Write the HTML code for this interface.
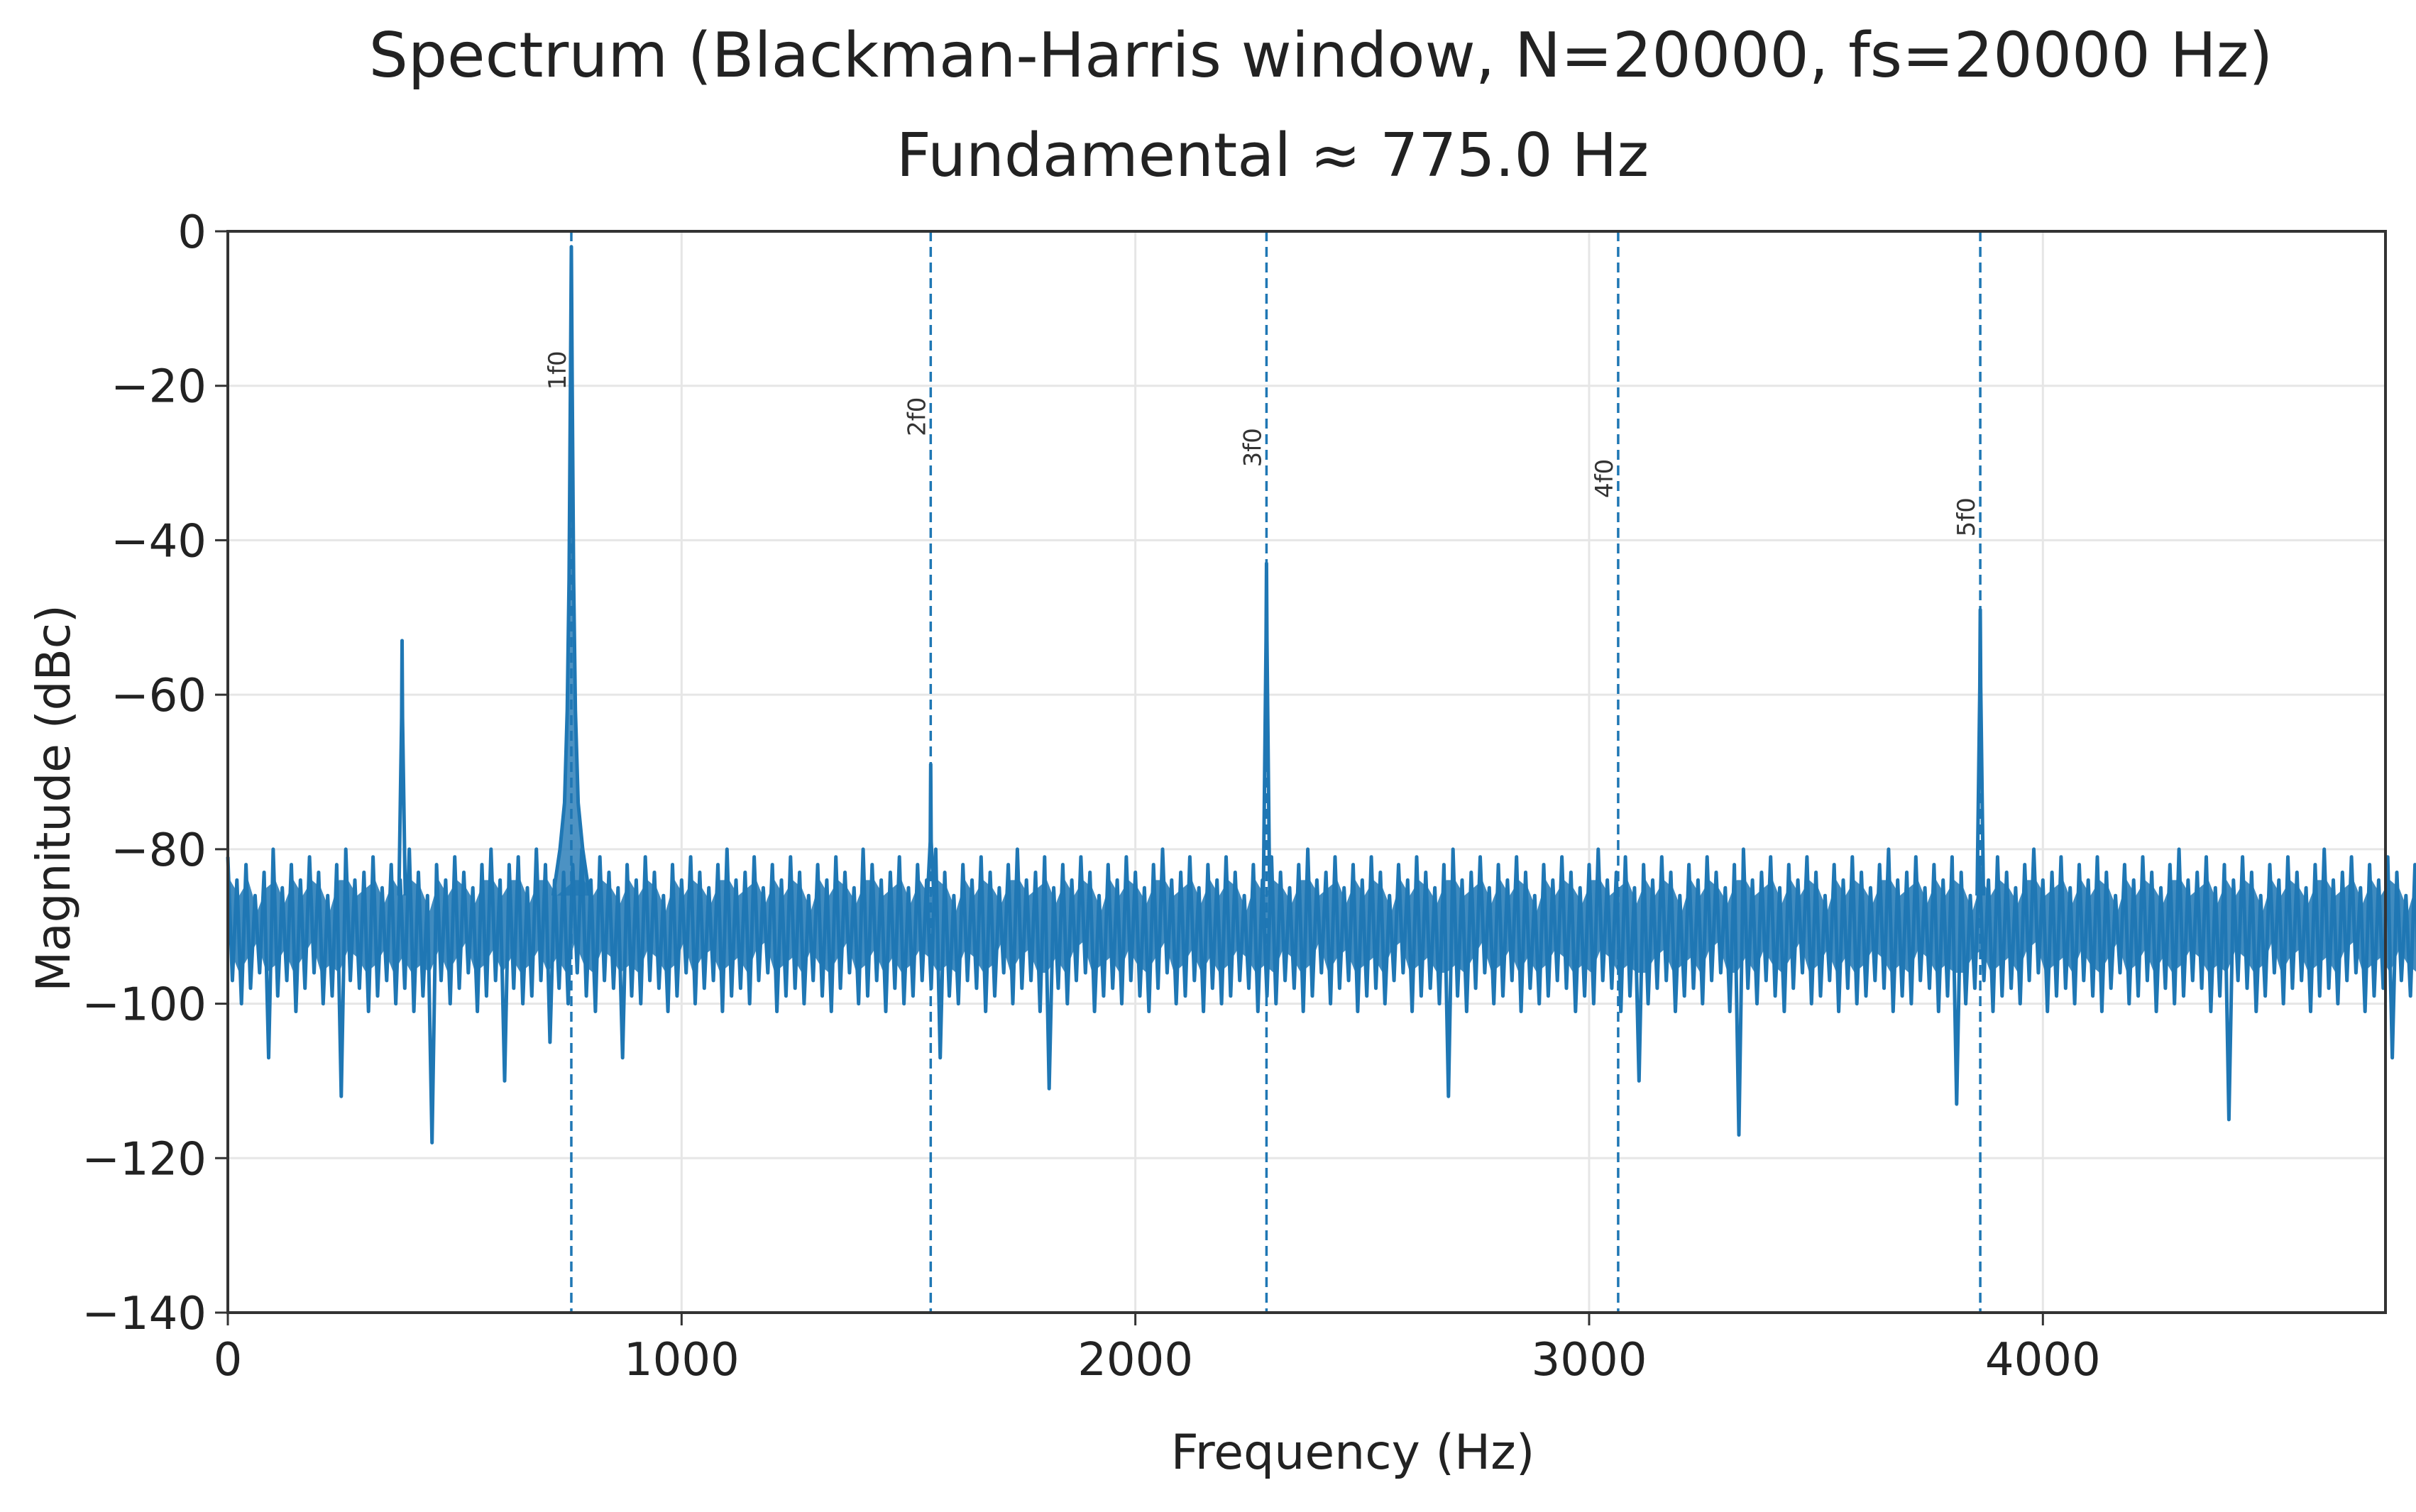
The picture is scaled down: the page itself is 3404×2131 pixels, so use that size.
<!DOCTYPE html>
<html><head><meta charset="utf-8"><style>
html,body{margin:0;padding:0;background:#fff}
svg{display:block;font-family:"DejaVu Sans","Liberation Sans",sans-serif}
</style></head><body>
<svg id="chart" width="3404" height="2131" viewBox="0 0 3404 2131">
<rect x="0" y="0" width="3404" height="2131" fill="#fff"/>
<text x="1861" y="108" font-size="87" text-anchor="middle" fill="#222">Spectrum (Blackman-Harris window, N=20000, fs=20000 Hz)</text>
<text x="1793" y="248" font-size="85" text-anchor="middle" fill="#222">Fundamental ≈ 775.0 Hz</text>
<g id="grid"></g>
<g id="marks"></g>
<g id="axes"></g>
<text x="1906" y="2070" font-size="68" text-anchor="middle" fill="#222">Frequency (Hz)</text>
<text transform="translate(98,1125) rotate(-90)" font-size="66" text-anchor="middle" fill="#222">Magnitude (dBc)</text>
</svg>
<script>
const xTicks=[0,1000,2000,3000,4000];
const yTicks=[0,-20,-40,-60,-80,-100,-120,-140];
const harmonics=[757,1549,2289,3064,3862];
const harmonicLabels=["1f0","2f0","3f0","4f0","5f0"];
const labelDb=[-18,-24,-28,-32,-37];
const noiseStep=20;
const noiseHi=[-81,-84,-82,-86,-83,-80,-85,-82,-84,-81,-83,-86,-82,-80,-84,-83,-81,-85,-82,-84,-80,-83,-86,-82,-84,-81,-83,-85,-82,-80,-84,-82,-81,-85,-80,-82,-84,-83,-82,-80,-84,-81,-83,-85,-82,-84,-81,-83,-86,-82,-84,-81,-83,-85,-82,-80,-84,-83,-81,-85,-82,-84,-81,-83,-86,-82,-84,-81,-83,-85,-80,-82,-84,-83,-81,-85,-82,-84,-80,-83,-86,-82,-84,-81,-83,-85,-82,-80,-84,-83,-81,-85,-82,-84,-81,-83,-86,-82,-84,-81,-83,-85,-82,-80,-84,-83,-81,-85,-82,-84,-81,-83,-86,-82,-84,-81,-83,-85,-82,-80,-84,-83,-81,-85,-82,-84,-81,-83,-86,-82,-84,-81,-83,-85,-82,-80,-84,-83,-81,-85,-82,-84,-81,-83,-86,-82,-84,-81,-83,-85,-82,-80,-84,-83,-81,-85,-82,-84,-81,-83,-86,-82,-84,-81,-83,-85,-82,-80,-84,-83,-81,-85,-82,-84,-81,-83,-86,-82,-84,-81,-83,-85,-82,-80,-84,-83,-81,-85,-82,-84,-81,-83,-86,-82,-84,-81,-83,-85,-82,-80,-84,-83,-81,-85,-82,-84,-81,-83,-86,-82,-84,-81,-83,-85,-82,-80,-84,-83,-81,-85,-82,-84,-81,-83,-86,-82,-84,-81,-83,-85,-82,-80,-84,-83,-81,-85,-82,-84,-81,-83,-86,-82,-80,-81,-83,-85,-82];
const noiseLo=[-97,-100,-98,-96,-107,-99,-97,-101,-98,-96,-100,-99,-112,-97,-98,-101,-99,-97,-100,-98,-101,-99,-118,-97,-100,-98,-96,-101,-99,-97,-110,-98,-100,-99,-97,-105,-98,-100,-96,-99,-101,-97,-98,-107,-99,-100,-97,-98,-101,-99,-96,-100,-98,-97,-101,-99,-98,-100,-97,-96,-101,-99,-98,-100,-97,-99,-101,-98,-96,-100,-99,-97,-101,-98,-100,-99,-97,-98,-107,-99,-100,-97,-98,-101,-99,-96,-100,-98,-97,-101,-111,-98,-100,-97,-96,-101,-99,-98,-100,-97,-99,-101,-98,-96,-100,-99,-97,-101,-98,-100,-99,-97,-98,-101,-99,-100,-97,-98,-101,-99,-96,-100,-98,-97,-101,-99,-98,-100,-97,-96,-101,-99,-98,-100,-112,-99,-101,-98,-96,-100,-99,-97,-101,-98,-100,-99,-97,-98,-101,-99,-100,-97,-98,-101,-99,-110,-100,-98,-97,-101,-99,-98,-100,-97,-96,-101,-117,-98,-100,-97,-99,-101,-98,-96,-100,-99,-97,-101,-98,-100,-99,-97,-98,-101,-99,-100,-97,-98,-101,-99,-113,-100,-98,-97,-101,-99,-98,-100,-97,-96,-101,-99,-98,-100,-97,-99,-101,-98,-96,-100,-99,-97,-101,-98,-100,-99,-97,-98,-101,-99,-115,-97,-98,-101,-99,-96,-100,-98,-97,-101,-99,-98,-100,-97,-96,-101,-99,-98,-107,-97,-99,-101,-98,-96];
const peakFreqs=[384,1549,2289,3862];
const peakDb=[-53,-69,-43,-49];
const skirtFreqs=[717,732,742,748,752,755,757,759,762,766,772,782,797];
const skirtDb=[-86,-80,-74,-62,-45,-20,-2,-20,-45,-62,-74,-80,-86];

const L=321,R=3361,T=326,B=1850,XMAX=4755;
const X=f=>L+(f/XMAX)*(R-L);
const Y=d=>T+(-d/140)*(B-T);
const NS="http://www.w3.org/2000/svg";
function mk(tag,attrs,parent){const e=document.createElementNS(NS,tag);for(const k in attrs)e.setAttribute(k,attrs[k]);parent.appendChild(e);return e;}
const grid=document.getElementById('grid'),marks=document.getElementById('marks'),axes=document.getElementById('axes');

xTicks.forEach(t=>{
  const g=mk('line',{x1:X(t),x2:X(t),y1:T,y2:B,stroke:'#e6e6e6','stroke-width':3},grid);
  
  
  const tk=mk('line',{x1:X(t),x2:X(t),y1:B,y2:B+18,stroke:'#333','stroke-width':3},axes);
  
  
  const lb=mk('text',{x:X(t),y:B+88,'font-size':64,'text-anchor':'middle',fill:'#222'},axes);
  lb.textContent=t;
  
  
});
yTicks.forEach(t=>{
  const g=mk('line',{x1:L,x2:R,y1:Y(t),y2:Y(t),stroke:'#e6e6e6','stroke-width':3},grid);
  
  
  const tk=mk('line',{x1:L-18,x2:L,y1:Y(t),y2:Y(t),stroke:'#333','stroke-width':3},axes);
  
  
  const lb=mk('text',{x:L-30,y:Y(t)+23,'font-size':64,'text-anchor':'end',fill:'#222'},axes);
  lb.textContent=t===0?'0':'\u2212'+Math.abs(t);
  
  
});

// noise band (envelope fill)
let bd='';
for(let i=0;i<noiseHi.length;i++){bd+=(i?'L':'M')+X(i*noiseStep+5).toFixed(1)+','+Y(Math.min(noiseHi[i]-2,-84)).toFixed(1);}
for(let i=noiseLo.length-1;i>=0;i--){bd+='L'+X(i*noiseStep+5).toFixed(1)+','+Y(Math.max(noiseLo[i]+4,-96)).toFixed(1);}
bd+='Z';
const bp=mk('path',{d:bd,fill:'#1f77b4','fill-opacity':0.85,stroke:'none'},marks);



// noise floor zigzag
let d='';
for(let i=0;i<noiseHi.length;i++){
  const f=i*noiseStep;
  d+=(i?'L':'M')+X(f).toFixed(1)+','+Y(noiseHi[i]).toFixed(1);
  d+='L'+X(f+noiseStep/2).toFixed(1)+','+Y(noiseLo[i]).toFixed(1);
}
const np=mk('path',{d:d,fill:'none',stroke:'#1f77b4','stroke-width':5,'stroke-linejoin':'round'},marks);



// fundamental skirt
let sd='';
skirtFreqs.forEach((f,i)=>{sd+=(i?'L':'M')+X(f).toFixed(1)+','+Y(skirtDb[i]).toFixed(1);});
const sp=mk('path',{d:sd,fill:'#1f77b4','fill-opacity':0.8,stroke:'#1f77b4','stroke-width':5,'stroke-linejoin':'round'},marks);



peakFreqs.forEach((f,i)=>{
  const pd='M'+X(f-7)+','+Y(-86)+'L'+X(f-1)+','+Y(peakDb[i]-10)+'L'+X(f)+','+Y(peakDb[i])+'L'+X(f+1)+','+Y(peakDb[i]-10)+'L'+X(f+7)+','+Y(-86);
  const p=mk('path',{d:pd,fill:'none',stroke:'#1f77b4','stroke-width':5,'stroke-linejoin':'round'},marks);
  
  
});

harmonics.forEach((f,i)=>{
  const l=mk('line',{x1:X(f),x2:X(f),y1:T,y2:B,stroke:'#1f77b4','stroke-width':3.5,'stroke-dasharray':'14,8'},marks);
  
  
  const t=mk('text',{transform:'translate('+(X(f)-8)+','+Y(labelDb[i])+') rotate(-90)','font-size':34,'text-anchor':'middle',fill:'#333'},marks);
  t.textContent=harmonicLabels[i];
  
  
});

const fr=mk('rect',{x:L,y:T,width:R-L,height:B-T,fill:'none',stroke:'#333','stroke-width':4},axes);


</script>
</body></html>
